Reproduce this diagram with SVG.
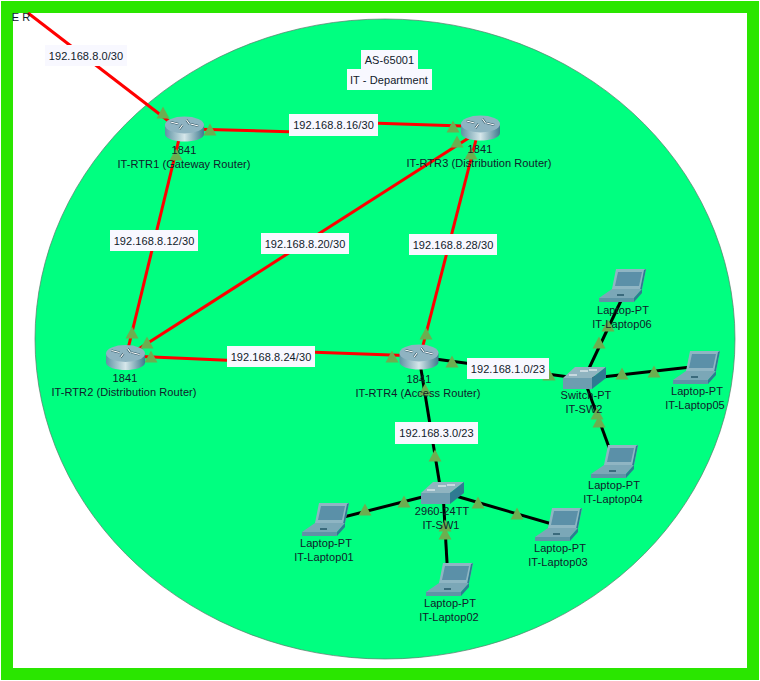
<svg xmlns="http://www.w3.org/2000/svg" width="760" height="681" viewBox="0 0 760 681">
<style>
text{font-family:"Liberation Sans",Arial,sans-serif;font-size:11px;letter-spacing:.08px;fill:#10202a;text-anchor:middle}
.r{stroke:#ff0000;stroke-width:3;fill:none}
.k{stroke:#000;stroke-width:3;fill:none}
.lb{fill:#f8f8ff}
.tri{fill:#6cae50}
</style>
<defs>
<linearGradient id="rg" x1="0" x2="1" y1="0" y2="0"><stop offset="0" stop-color="#5f93a4"/><stop offset=".5" stop-color="#d5e6ea"/><stop offset="1" stop-color="#3f7a8e"/></linearGradient>
<path id="t" class="tri" d="M0-6.500L6.500 5.500H-6.500Z"/>
<g id="router">
<path d="M-19.500-4V5C-19.500 10-9 12.500 0 12.500S19.500 10 19.500 5V-4Z" fill="url(#rg)"/>
<ellipse cx="0" cy="-4" rx="19.500" ry="8.500" fill="#8fb3c2"/>
<path d="M-14-7L-6-5M-5 0L-2-4M2-9L5-5M6-5L14-3" stroke="#27505f" stroke-width="2.200" fill="none"/>
<path d="M-14-7L-6-5M-5 0L-2-4M2-9L5-5M6-5L14-3" stroke="#fff" stroke-width="1.200" fill="none"/>
</g>
<g id="switch">
<path d="M-20 0L-8-11H23L9 0Z" fill="#90b4c0"/>
<path d="M-20 0H9V11H-20Z" fill="#6d9db0"/>
<path d="M9 0L23-11V0L9 11Z" fill="#2f7a92"/>
<path d="M-14-3h8M-3-7h8M6-8h8" stroke="#fff" stroke-width="1" fill="none"/>
</g>
<g id="laptop">
<path d="M-9-16H21L17 4H-13Z" fill="#8fb5c3"/>
<path d="M-7-13H17L14 1H-10Z" fill="#5b90a8"/>
<path d="M21-16L17 4L15 5L19-15Z" fill="#2f7a92"/>
<path d="M-13 4H17L9 13H-26Z" fill="#7ba7b7"/>
<path d="M-26 13H9V17H-26Z" fill="#5f93a6"/>
<path d="M9 13L17 4V8L9 17Z" fill="#2f7a92"/>
<path d="M-8 10h7" stroke="#3a6a7c" stroke-width="2" fill="none"/>
</g>
</defs>
<rect width="760" height="681" fill="#fff"/>
<path d="M7 7H753V674H7Z" fill="none" stroke="#2ae600" stroke-width="12"/>
<ellipse cx="385" cy="339" rx="350" ry="320" fill="#00ff80" stroke="#5a7a6a" stroke-width=".7"/>
<g id="connectors">
<path class="r" d="M28 13L175 126"/>
<path class="r" d="M190 129L289 131.700"/>
<path class="r" d="M378 123.300L470 126.300"/>
<path class="r" d="M180 135L126 357"/>
<path class="r" d="M478 132L126 357"/>
<path class="r" d="M478 132L420 357"/>
<path class="r" d="M130 356L227 360.200"/>
<path class="r" d="M315 352.200L405 355.600"/>
<path class="k" d="M420 357L584 379"/>
<path class="k" d="M419 357L441 492"/>
<path class="k" d="M584 379L627 288"/>
<path class="k" d="M584 379L700 366"/>
<path class="k" d="M584 379L610 450"/>
<path class="k" d="M442 492L328 521"/>
<path class="k" d="M443 492L448 580"/>
<path class="k" d="M442 492L552 524"/>
</g>
<g id="link-markers">
<use href="#t" x="163" y="113"/><use href="#t" x="210" y="130"/><use href="#t" x="453" y="127"/>
<use href="#t" x="176" y="155"/><use href="#t" x="132" y="333"/>
<use href="#t" x="457" y="142"/><use href="#t" x="147" y="343"/>
<use href="#t" x="471" y="154"/><use href="#t" x="426" y="334"/>
<use href="#t" x="151" y="357"/><use href="#t" x="392" y="357"/>
<use href="#t" x="452" y="362"/><use href="#t" x="549" y="375"/>
<use href="#t" x="425" y="390"/><use href="#t" x="435" y="456"/>
<use href="#t" x="599" y="343"/><use href="#t" x="608" y="326"/><use href="#t" x="622" y="374"/><use href="#t" x="654" y="372"/>
<use href="#t" x="597" y="414"/><use href="#t" x="599" y="422"/>
<use href="#t" x="404" y="502"/><use href="#t" x="365" y="510"/>
<use href="#t" x="445" y="526"/><use href="#t" x="445" y="534"/>
<use href="#t" x="478" y="503"/><use href="#t" x="517" y="514"/>
</g>
<text x="21" y="21">E R</text>
<g id="IT-RTR1"><use href="#router" x="184.500" y="129"/><text x="184" y="154">1841</text><text x="184" y="168">IT-RTR1 (Gateway Router)</text></g>
<g id="IT-RTR3"><use href="#router" x="480.500" y="128"/><text x="480" y="153">1841</text><text x="479" y="167">IT-RTR3 (Distribution Router)</text></g>
<g id="IT-RTR2"><use href="#router" x="125.500" y="357.500"/><text x="125" y="382">1841</text><text x="124" y="396">IT-RTR2 (Distribution Router)</text></g>
<g id="IT-RTR4"><use href="#router" x="419" y="357"/><text x="419" y="383">1841</text><text x="418" y="397">IT-RTR4 (Access Router)</text></g>
<g id="IT-SW1"><use href="#switch" x="441" y="493"/><text x="442" y="515">2960-24TT</text><text x="441" y="529">IT-SW1</text></g>
<g id="IT-SW2"><use href="#switch" x="583" y="378"/><text x="586" y="399">Switch-PT</text><text x="584" y="413">IT-SW2</text></g>
<g id="IT-Laptop01"><use href="#laptop" x="328" y="519"/><text x="326" y="547">Laptop-PT</text><text x="324" y="561">IT-Laptop01</text></g>
<g id="IT-Laptop02"><use href="#laptop" x="452" y="579"/><text x="450" y="607">Laptop-PT</text><text x="449" y="621">IT-Laptop02</text></g>
<g id="IT-Laptop03"><use href="#laptop" x="561" y="524"/><text x="560" y="552">Laptop-PT</text><text x="558" y="566">IT-Laptop03</text></g>
<g id="IT-Laptop04"><use href="#laptop" x="617" y="461"/><text x="614" y="489">Laptop-PT</text><text x="613" y="503">IT-Laptop04</text></g>
<g id="IT-Laptop05"><use href="#laptop" x="699" y="367"/><text x="697" y="395">Laptop-PT</text><text x="695" y="409">IT-Laptop05</text></g>
<g id="IT-Laptop06"><use href="#laptop" x="625" y="285"/><text x="623" y="314">Laptop-PT</text><text x="622" y="328">IT-Laptop06</text></g>
<g id="labels">
<rect class="lb" x="45" y="45" width="82" height="21"/><text x="86" y="60">192.168.8.0/30</text>
<rect class="lb" x="289" y="114" width="89" height="22"/><text x="333.500" y="129">192.168.8.16/30</text>
<rect class="lb" x="110" y="230" width="88" height="21"/><text x="154" y="245">192.168.8.12/30</text>
<rect class="lb" x="261" y="233" width="88" height="21"/><text x="305" y="248">192.168.8.20/30</text>
<rect class="lb" x="409" y="234" width="88" height="21"/><text x="453" y="249">192.168.8.28/30</text>
<rect class="lb" x="227" y="346" width="88" height="21"/><text x="271" y="361">192.168.8.24/30</text>
<rect class="lb" x="467" y="358" width="82" height="21"/><text x="508" y="373">192.168.1.0/23</text>
<rect class="lb" x="395" y="422" width="83" height="22"/><text x="436.500" y="437">192.168.3.0/23</text>
<rect class="lb" x="361" y="50" width="57" height="19"/><text x="389.500" y="64">AS-65001</text>
<rect class="lb" x="347" y="69" width="85" height="21"/><text x="389" y="84">IT - Department</text>
</g>
</svg>
